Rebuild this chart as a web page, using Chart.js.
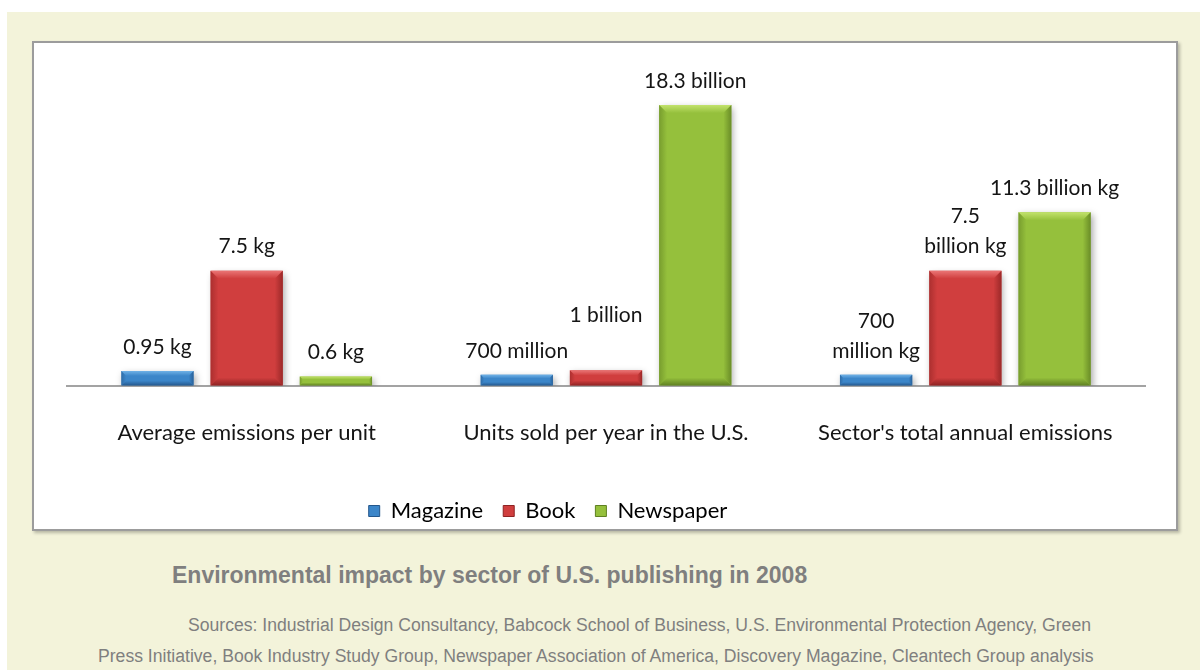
<!DOCTYPE html>
<html>
<head>
<meta charset="utf-8">
<script src="https://cdn.jsdelivr.net/npm/chart.js@4/dist/chart.umd.min.js"></script>
<style>
  html, body { margin: 0; padding: 0; background: #fff; }
  #page {
    position: absolute; left: 7px; top: 12px; width: 1193px; height: 658px;
    background: #f3f3da;
  }
  #frame {
    position: absolute; left: 32px; top: 41px; width: 1142px; height: 486px;
    background: #fff; border: 2px solid #9c9c9c;
    box-shadow: 2px 2px 3px rgba(0,0,0,0.25);
  }
  #frame canvas { position: absolute; left: 0; top: 0; }
  .note { position: absolute; white-space: nowrap; font-family: "Liberation Sans", Arial, sans-serif; color: #7f7f7f; }
  #title { left: 172px; top: 562px; font-size: 23px; font-weight: bold; }
  #src1 { left: 188px; top: 615px; font-size: 17.6px; }
  #src2 { left: 98px; top: 646px; font-size: 17.6px; }
</style>
</head>
<body>
<div id="page"></div>
<div id="frame"><canvas id="chart" width="1142" height="499"></canvas></div>
<div class="note" id="title">Environmental impact by sector of U.S. publishing in 2008</div>
<div class="note" id="src1">Sources: Industrial Design Consultancy, Babcock School of Business, U.S. Environmental Protection Agency, Green</div>
<div class="note" id="src2">Press Initiative, Book Industry Study Group, Newspaper Association of America, Discovery Magazine, Cleantech Group analysis</div>
<script>
const categories = ['Average emissions per unit', 'Units sold per year in the U.S.', "Sector's total annual emissions"];
const seriesNames = ['Magazine', 'Book', 'Newspaper'];

// kg per unit / billions of units / billions of kg
const magazine = [0.95, 0.7, 0.7];
const book = [7.5, 1, 7.5];
const newspaper = [0.6, 18.3, 11.3];

const magazineLabels = [['0.95 kg'], ['700 million'], ['700', 'million kg']];
const bookLabels = [['7.5 kg'], ['1 billion'], ['7.5', 'billion kg']];
const newspaperLabels = [['0.6 kg'], ['18.3 billion'], ['11.3 billion kg']];

// body / light / dark shades for the bevelled bars
const palette = [
  { body: '#3c86c9', light: '#6fb1e6', dark: '#24578c' },
  { body: '#d03e3e', light: '#ea7676', dark: '#8e2323' },
  { body: '#95c03c', light: '#c2e26c', dark: '#5f8022' }
];

const FONT = 'Lato, "Open Sans", sans-serif';

function bevel(ctx, l, t, r, b, c) {
  const h = b - t, w = r - l;
  const s = Math.max(1.5, Math.min(8, h / 3, w / 6));
  let g;
  // top edge
  g = ctx.createLinearGradient(0, t, 0, t + s);
  g.addColorStop(0, c.light); g.addColorStop(1, c.body);
  ctx.fillStyle = g;
  ctx.beginPath(); ctx.moveTo(l, t); ctx.lineTo(r, t); ctx.lineTo(r - s, t + s); ctx.lineTo(l + s, t + s); ctx.closePath(); ctx.fill();
  // bottom edge
  g = ctx.createLinearGradient(0, b - s, 0, b);
  g.addColorStop(0, c.body); g.addColorStop(1, c.dark);
  ctx.fillStyle = g;
  ctx.beginPath(); ctx.moveTo(l, b); ctx.lineTo(r, b); ctx.lineTo(r - s, b - s); ctx.lineTo(l + s, b - s); ctx.closePath(); ctx.fill();
  // left edge
  g = ctx.createLinearGradient(l, 0, l + s, 0);
  g.addColorStop(0, c.dark); g.addColorStop(1, c.body);
  ctx.globalAlpha = 0.55;
  ctx.fillStyle = g;
  ctx.beginPath(); ctx.moveTo(l, t); ctx.lineTo(l + s, t + s); ctx.lineTo(l + s, b - s); ctx.lineTo(l, b); ctx.closePath(); ctx.fill();
  // right edge
  g = ctx.createLinearGradient(r - s, 0, r, 0);
  g.addColorStop(0, c.body); g.addColorStop(1, c.dark);
  ctx.globalAlpha = 0.8;
  ctx.fillStyle = g;
  ctx.beginPath(); ctx.moveTo(r, t); ctx.lineTo(r - s, t + s); ctx.lineTo(r - s, b - s); ctx.lineTo(r, b); ctx.closePath(); ctx.fill();
  ctx.globalAlpha = 1;
}

const barStyle = {
  id: 'barStyle',
  afterLayout(chart) {
    // legend sits a bit left of centre
    chart.legend.left -= 58;
    chart.legend.right -= 58;
  },
  beforeDatasetsDraw(chart) {
    const ctx = chart.ctx;
    ctx.save();
    ctx.shadowColor = 'rgba(0,0,0,0.35)';
    ctx.shadowBlur = 7;
    ctx.shadowOffsetX = 2;
    ctx.shadowOffsetY = 3;
  },
  afterDatasetsDraw(chart) {
    const ctx = chart.ctx;
    ctx.restore();
    chart.data.datasets.forEach((ds, i) => {
      chart.getDatasetMeta(i).data.forEach((bar, j) => {
        const p = bar.getProps(['x', 'y', 'base', 'width'], true);
        bevel(ctx, p.x - p.width / 2, p.y, p.x + p.width / 2, p.base, palette[i]);
        // value label above the bar
        const lines = ds.valueLabels[j];
        const lift = ds.labelLift ? ds.labelLift[j] : 0;
        ctx.save();
        ctx.font = '21px ' + FONT;
        ctx.fillStyle = '#151515';
        ctx.textAlign = 'center';
        ctx.textBaseline = 'middle';
        lines.forEach((txt, k) => {
          const y = p.y - 24 - lift - (lines.length - 1 - k) * 30;
          ctx.fillText(txt, p.x, y);
        });
        ctx.restore();
      });
    });
  }
};

const values = [magazine, book, newspaper];
const labelSets = [magazineLabels, bookLabels, newspaperLabels];

new Chart(document.getElementById('chart'), {
  type: 'bar',
  data: {
    labels: categories,
    datasets: seriesNames.map((name, i) => ({
      label: name,
      data: values[i],
      valueLabels: labelSets[i],
      labelLift: i === 1 ? [0, 31, 0] : null,
      backgroundColor: palette[i].body,
      borderWidth: 0,
      categoryPercentage: 0.745,
      barPercentage: 0.81
    }))
  },
  options: {
    responsive: false,
    animation: false,
    layout: { padding: { left: 33, right: 31, top: 36, bottom: 10 } },
    scales: {
      y: { min: 0, max: 20, display: false },
      x: {
        grid: { display: false, drawTicks: false },
        border: { display: true, color: '#a3a3a3', width: 2 },
        ticks: { color: '#151515', font: { family: FONT, size: 22 }, padding: 34 }
      }
    },
    plugins: {
      tooltip: { enabled: false },
      legend: {
        position: 'bottom',
        labels: {
          color: '#151515',
          font: { family: FONT, size: 22 },
          boxWidth: 11,
          boxHeight: 11,
          padding: 20,
          generateLabels: (chart) => chart.data.datasets.map((ds, i) => ({
            text: ds.label,
            fillStyle: palette[i].body,
            strokeStyle: palette[i].dark,
            lineWidth: 1,
            datasetIndex: i
          }))
        }
      }
    }
  },
  plugins: [barStyle]
});
</script>
</body>
</html>
